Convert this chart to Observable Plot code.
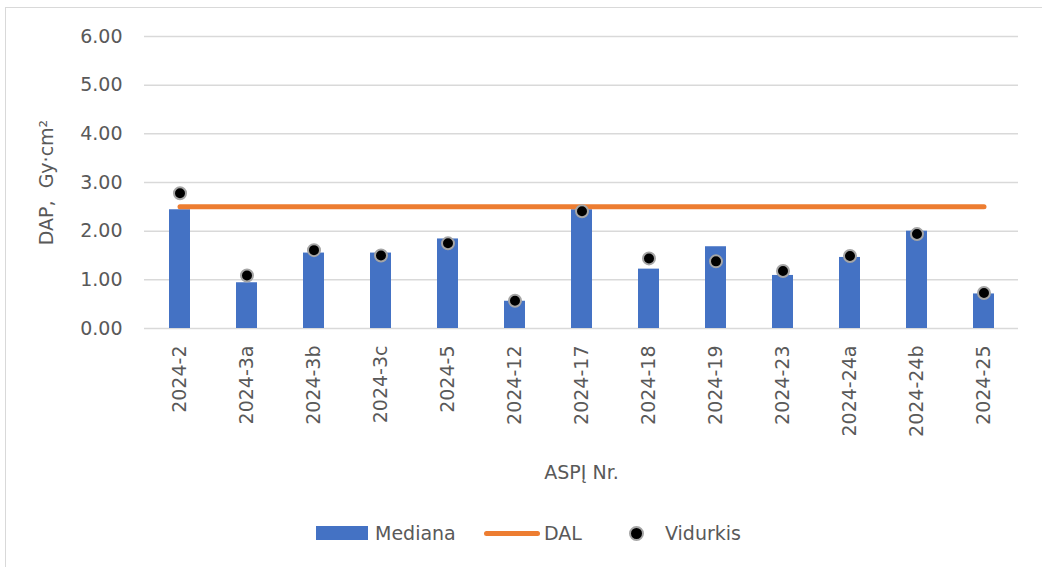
<!DOCTYPE html>
<html>
<head>
<meta charset="utf-8">
<script src="https://cdn.jsdelivr.net/npm/d3@7"></script>
<script src="https://cdn.jsdelivr.net/npm/@observablehq/plot@0.6"></script>
<style>
  html, body { margin: 0; padding: 0; background: #fff; }
  body { width: 1042px; height: 567px; position: relative; overflow: hidden; font-family: "DejaVu Sans", sans-serif; }
  #frame { position: absolute; left: 5px; top: 7px; width: 1100px; height: 600px; border-left: 1.5px solid #d9d9d9; border-top: 1.5px solid #d9d9d9; }
  #chart { position: absolute; left: 0; top: 0; }
  #legend { position: absolute; top: 519px; left: 0; width: 1042px; height: 28px; font-size: 19px; color: #595959; }
  #legend .item { position: absolute; top: 0; display: flex; align-items: center; height: 28px; }
  .sw-bar { width: 52px; height: 14px; background: #4472c4; margin-right: 7px; }
  .sw-line { width: 56px; height: 5px; background: #ed7d31; border-radius: 3px; margin-right: 4px; }
  .sw-dot { width: 11px; height: 11px; border-radius: 50%; background: #000; border: 2px solid #a5a5a5; margin-right: 21px; }
</style>
</head>
<body>
<div id="frame"></div>
<div id="chart"></div>
<div id="legend">
  <div class="item" style="left:316px"><div class="sw-bar"></div><span>Mediana</span></div>
  <div class="item" style="left:484px"><div class="sw-line"></div><span>DAL</span></div>
  <div class="item" style="left:629px"><div class="sw-dot"></div><span>Vidurkis</span></div>
</div>
<script>
const categories = ["2024-2","2024-3a","2024-3b","2024-3c","2024-5","2024-12","2024-17","2024-18","2024-19","2024-23","2024-24a","2024-24b","2024-25"];
const mediana = [2.44, 0.94, 1.55, 1.55, 1.84, 0.56, 2.44, 1.22, 1.68, 1.09, 1.46, 2.00, 0.71];
const vidurkis = [2.78, 1.09, 1.61, 1.50, 1.75, 0.57, 2.41, 1.44, 1.38, 1.18, 1.49, 1.94, 0.73];
const dal = [2.5, 2.5, 2.5, 2.5, 2.5, 2.5, 2.5, 2.5, 2.5, 2.5, 2.5, 2.5, 2.5];
const yTicks = [0, 1, 2, 3, 4, 5, 6];

const rows = categories.map((c, i) => ({cat: c, med: mediana[i], avg: vidurkis[i], dal: dal[i]}));
const FS = 19;

const chart = Plot.plot({
  width: 1042,
  height: 500,
  marginLeft: 144,
  marginRight: 24,
  marginTop: 36,
  marginBottom: 172,
  style: {fontFamily: "'DejaVu Sans', sans-serif", fontSize: FS + "px", color: "#595959", background: "transparent"},
  x: {domain: categories, paddingInner: 0.69, paddingOuter: 0.345, label: null},
  y: {domain: [0, 6], label: null},
  marks: [
    Plot.ruleY(yTicks, {stroke: "#d9d9d9", strokeWidth: 1.5}),
    Plot.barY(rows, {x: "cat", y: "med", fill: "#4472c4"}),
    Plot.line(rows, {x: "cat", y: "dal", stroke: "#ed7d31", strokeWidth: 5, strokeLinecap: "round"}),
    Plot.dot(rows, {x: "cat", y: "avg", r: 6, fill: "#000", stroke: "#a5a5a5", strokeWidth: 2}),
    Plot.axisY(yTicks, {tickFormat: d => d.toFixed(2), tickSize: 0, tickPadding: 22, label: null, fill: "#595959", fontSize: FS}),
    Plot.axisX({tickRotate: -90, tickSize: 0, tickPadding: 17, label: null, fill: "#595959", fontSize: FS}),
    Plot.text(["ASPĮ Nr."], {frameAnchor: "bottom", dy: 144, fill: "#595959", fontSize: FS, lineAnchor: "middle"}),
    Plot.text(["DAP,\u00a0 Gy·cm²"], {frameAnchor: "left", dx: -98, rotate: -90, textAnchor: "middle", fill: "#595959", fontSize: FS, lineAnchor: "middle"})
  ]
});
document.getElementById("chart").appendChild(chart);
</script>
</body>
</html>
